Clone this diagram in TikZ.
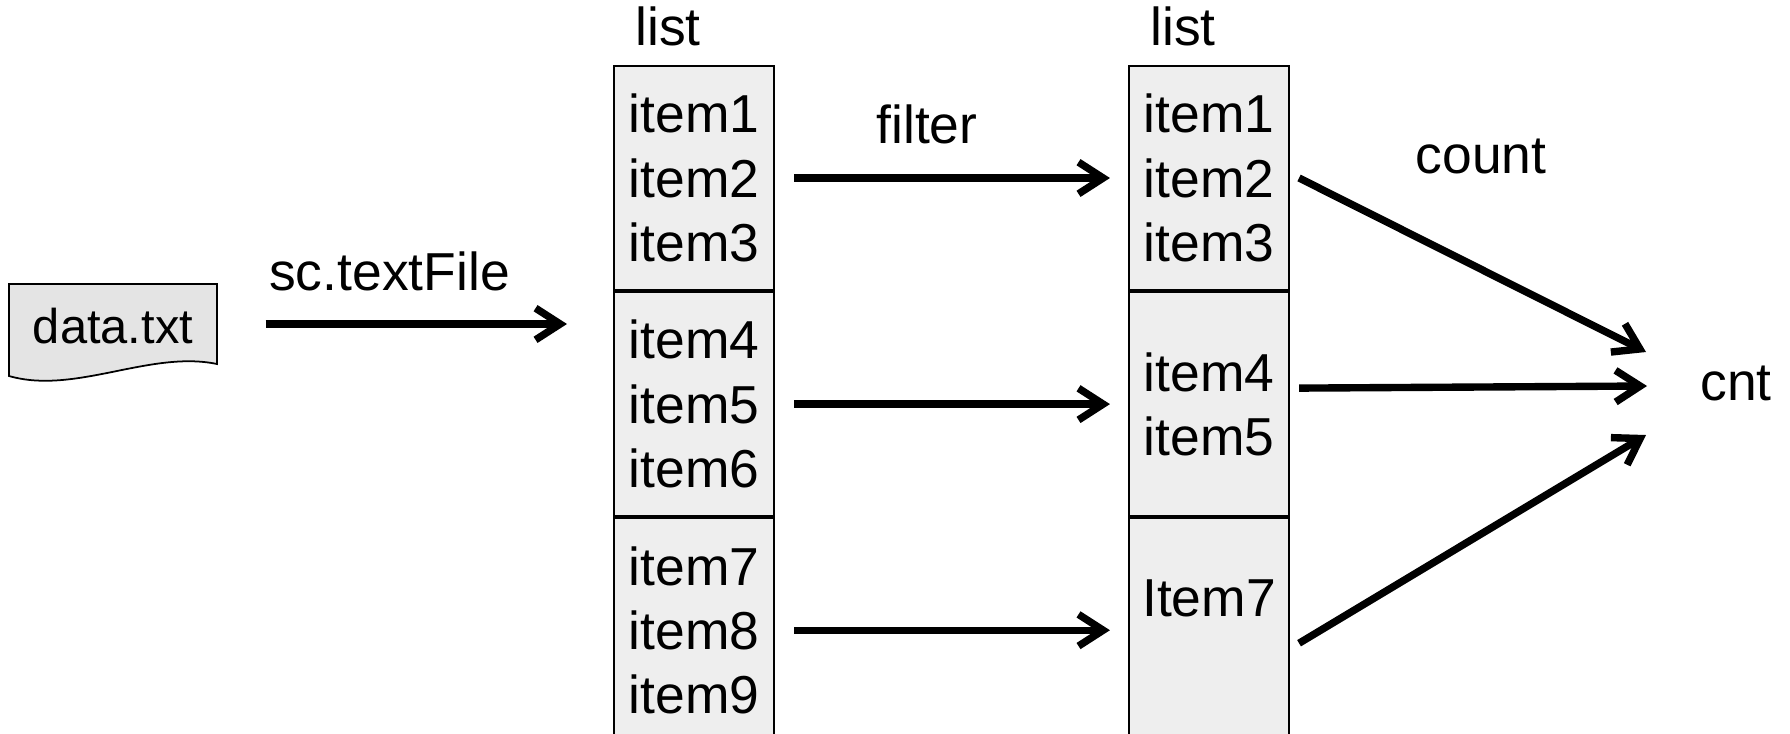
\documentclass[tikz,border=0pt]{standalone}
\usepackage{fontspec}
\setmainfont{Liberation Sans}
\usetikzlibrary{positioning,arrows.meta}
\definecolor{boxgray}{HTML}{EEEEEE}
\definecolor{docgray}{HTML}{E4E4E4}

\begin{document}
\begin{tikzpicture}[
  seg/.style={draw, line width=0.6pt, fill=boxgray, minimum width=1.6cm, minimum height=2.24cm,
    inner sep=0pt, align=left, font=\fontsize{15.2}{18.3}\selectfont},
  lbl/.style={anchor=base, inner sep=0pt, font=\fontsize{15.2}{18.3}\selectfont},
  arr/.style={-{Straight Barb[length=7pt,width=9pt]}, line width=2.1pt}]
  \useasboundingbox (0,0) rectangle (17.9,-7.33);
  % Source file
  \draw[line width=0.5pt, fill=docgray] (0.09,-2.84) -- (2.17,-2.84) -- (2.17,-3.64)
    .. controls (1.5,-3.5) and (0.75,-3.95) .. (0.09,-3.76) -- cycle;
  \node[minimum width=2.08cm, minimum height=0.8cm, inner sep=0pt,
    font=\fontsize{13.9}{16}\selectfont] (data) at (1.13,-3.26) {data.txt};
  % First list
  \node[seg] (l1a) at (6.94,-1.78) {item1\\item2\\item3};
  \node[seg, below=0pt of l1a] (l1b) {item4\\item5\\item6};
  \node[seg, below=0pt of l1b] (l1c) {item7\\item8\\item9};
  % Second list
  \node[seg] (l2a) at (12.09,-1.78) {item1\\item2\\item3};
  \node[seg, below=0pt of l2a] (l2b) {item4\\item5};
  \node[seg, below=0pt of l2b] (l2c) {Item7\\\mbox{}};
  % Labels
  \node[lbl] (hd1) at ([xshift=-0.26cm, yshift=0.19cm]l1a.north) {list};
  \node[lbl] (hd2) at ([xshift=-0.26cm, yshift=0.19cm]l2a.north) {list};
  \node[lbl] (src) at (3.895,-2.90) {sc.textFile};
  \node[lbl] (flt) at (9.27,-1.43) {filter};
  \node[lbl] (cntlbl) at (14.81,-1.73) {count};
  \node[lbl] (cnt) at (17.36,-4.00) {cnt};
  % Reading the file
  \coordinate (in1) at (5.67,-3.24);
  \draw[arr, shorten <=0.48cm] (data.east |- in1) -- (in1);
  % Filtering
  \draw[arr, shorten <=0.19cm, shorten >=0.18cm] (l1a) -- (l2a);
  \draw[arr, shorten <=0.19cm, shorten >=0.18cm] (l1b) -- (l2b);
  \draw[arr, shorten <=0.19cm, shorten >=0.18cm] (l1c) -- (l2c);
  % Counting
  \coordinate (e1) at (16.46,-3.52);
  \coordinate (e2) at (16.47,-3.86);
  \coordinate (e3) at (16.46,-4.35);
  \draw[arr] ([xshift=0.09cm]l2a.east) -- (e1);
  \draw[arr] ([xshift=0.09cm, yshift=0.16cm]l2b.east) -- (e2);
  \draw[arr] ([xshift=0.09cm, yshift=-0.13cm]l2c.east) -- (e3);
\end{tikzpicture}
\end{document}
